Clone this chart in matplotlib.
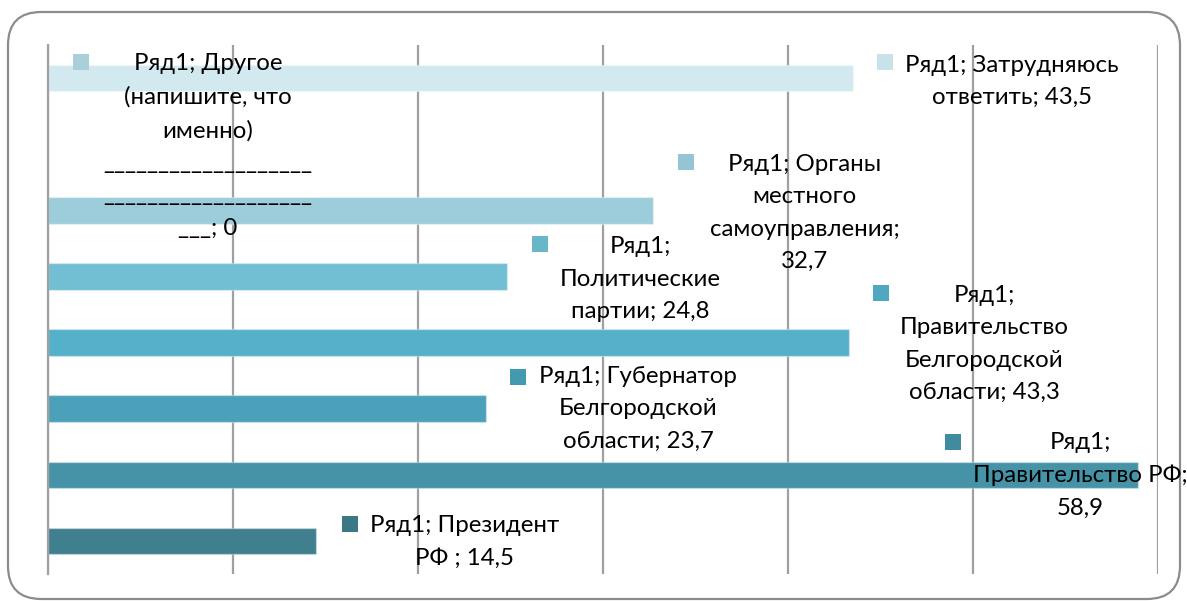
import matplotlib
matplotlib.use("Agg")
import matplotlib.pyplot as plt
from matplotlib.patches import FancyBboxPatch

# ---------------- data ----------------
series_name = "Ряд1"
categories = [
    "Президент РФ ",
    "Правительство РФ",
    "Губернатор Белгородской области",
    "Правительство Белгородской области",
    "Политические партии",
    "Органы местного самоуправления",
    "Другое (напишите, что именно) " + "_" * 41,
    "Затрудняюсь ответить",
]
values = [14.5, 58.9, 23.7, 43.3, 24.8, 32.7, 0.0, 43.5]
x_ticks = [0, 10, 20, 30, 40, 50, 60]

# ---------------- styles / layout ----------------
bar_colors = ["#3f7f8e", "#4693a8", "#4aa1b9", "#55b0ca", "#72bed3",
              "#9dcddb", "#abd1dd", "#d2e9f0"]
key_colors = ["#3a7886", "#408b9f", "#4299b0", "#4ea8c1", "#69b6cb",
              "#93c5d4", "#a9cfdb", "#c9e2ea"]
wrap_widths = [15, 17, 16, 13, 12, 15, 19, 18]
# label centre (x in data units) ; key position (x data, y offset in category units)
label_x = [22.5, 55.8, 31.9, 50.6, 32.0, 40.9, 8.65, 52.1]
label_dy = [-0.02, -0.01, 0.0, -0.02, -0.04, -0.04, -0.03, -0.05]
key_x = [16.3, 48.9, 25.4, 45.0, 26.57, 34.46, 1.81, 45.24]
key_dy = [0.25, 0.50, 0.485, 0.75, 0.492, 0.735, 1.242, 0.242]

FONT = ["Lato", "Open Sans", "DejaVu Sans"]
FS = 17.3


def fmt(v):
    s = ("%.1f" % v).replace(".", ",")
    if s.endswith(",0"):
        s = s[:-2]
    return s


def excel_wrap(text, width):
    lines, cur = [], ""
    for w in text.split(" "):
        if cur == "":
            cur = w
        elif len(cur) + 1 + len(w) <= width:
            cur += " " + w
        else:
            lines.append(cur)
            cur = w
        while len(cur) > width:
            lines.append(cur[:width])
            cur = cur[width:]
    if cur:
        lines.append(cur)
    return "\n".join(lines)


W, H = 1187, 601
fig = plt.figure(figsize=(W / 100, H / 100), dpi=100)

# rounded outer border
border = FancyBboxPatch((8 / W, 2 / H), (1180 - 8) / W, (599 - 12) / H,
                        boxstyle="round,pad=0,rounding_size=0.028",
                        transform=fig.transFigure, facecolor="none",
                        edgecolor="#8c8c8c", linewidth=1.6,
                        mutation_aspect=W / H, zorder=-1)
fig.patches.append(border)

ax = fig.add_axes([48 / W, (H - 574) / H, 1110 / W, (574 - 45) / H])
ax.set_facecolor("none")
ypos = list(range(len(categories)))
ax.barh(ypos, values, height=0.4, color=bar_colors,
        edgecolor=(1, 1, 1, 0.35), linewidth=1.0, zorder=2)

ax.set_xlim(x_ticks[0], x_ticks[-1])
ax.set_ylim(-0.5, len(categories) - 0.5)
ax.set_xticks(x_ticks)
ax.set_yticks([])
ax.grid(axis="x", color="#a0a0a0", linewidth=1.6, zorder=1)
ax.set_axisbelow(True)
ax.tick_params(axis="x", length=0, labelbottom=False)
for s in ["top", "right", "bottom"]:
    ax.spines[s].set_visible(False)
ax.spines["left"].set_color("#a0a0a0")
ax.spines["left"].set_linewidth(1.6)

for i, (cat, v) in enumerate(zip(categories, values)):
    txt = f"{series_name}; {cat}; {fmt(v)}"
    txt = excel_wrap(txt, wrap_widths[i])
    ax.text(label_x[i], ypos[i] + label_dy[i], txt, ha="center", va="center",
            multialignment="center", fontsize=FS, family=FONT,
            linespacing=1.68, color="black", zorder=4, clip_on=False)
    ax.scatter([key_x[i]], [ypos[i] + key_dy[i]], marker="s", s=118,
               color=key_colors[i], linewidths=0, zorder=3, clip_on=False)

fig.savefig("out.png", dpi=100)
